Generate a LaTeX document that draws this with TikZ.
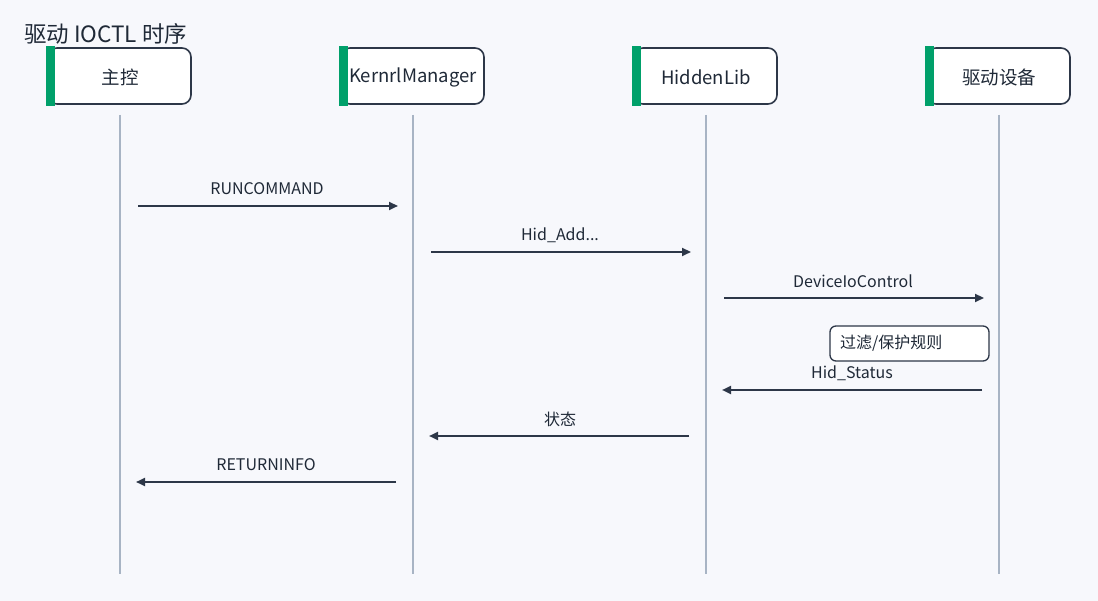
\documentclass[tikz,border=0pt]{standalone}
\usepackage{fontspec}
\setmainfont{Noto Sans CJK SC}
\usetikzlibrary{arrows.meta,calc}
\definecolor{bg}{HTML}{F7F8FC}
\definecolor{ink}{HTML}{1F2937}
\definecolor{edge}{HTML}{2D3748}
\definecolor{life}{HTML}{A8B4C4}
\definecolor{grn}{HTML}{00A06A}
\tikzset{
  actor/.style={draw=edge, line width=1.6pt, fill=white, rounded corners=9pt, minimum width=143pt, minimum height=56pt, inner sep=0pt},
  actortext/.style={text=ink, font=\fontsize{18.5}{20}\selectfont, inner sep=0pt},
  lifeline/.style={draw=life, line width=1.3pt},
  msg/.style={draw=edge, line width=2.2pt, -{Triangle[length=9pt,width=8pt]}},
  lbl/.style={text=ink, font=\fontsize{16}{18}\selectfont, inner sep=0pt},
  notebox/.style={draw=edge, line width=1.3pt, fill=white, rounded corners=6pt, minimum width=159pt, minimum height=35pt, inner sep=0pt},
}
\begin{document}
\begin{tikzpicture}[x=1pt,y=-1pt]
\fill[bg] (0,0) rectangle (1098,601);
\useasboundingbox (0,0) rectangle (1098,601);
\node[anchor=west, text=ink, font=\fontsize{22.5}{24}\selectfont, inner sep=0pt] (title) at (24,34) {驱动 IOCTL 时序};
% lifelines
\foreach \n/\x in {a/120,b/413,c/706,d/999}{
  \coordinate (\n top) at (\x,115);
  \coordinate (\n bot) at (\x,574);
  \draw[lifeline] (\n top) -- (\n bot);
}
% actors
\foreach \n/\x in {A/119.5,B/412.5,C/705.5,D/998.5}{
  \node[actor] (\n) at (\x,76) {};
  \fill[grn] ($(\n.north west)+(-0.8,-0.8)$) rectangle ($(\n.south west)+(7.5,0.8)$);
}
\node[actortext] (At) at (120,77) {主控};
\node[actortext] (Bt) at (413,77) {KernrlManager};
\node[actortext] (Ct) at (706,77) {HiddenLib};
\node[actortext] (Dt) at (999,77) {驱动设备};
% message points
\coordinate (m1s) at (138,206); \coordinate (m1e) at (398,206);
\coordinate (m2s) at (431,252); \coordinate (m2e) at (691,252);
\coordinate (m3s) at (724,298); \coordinate (m3e) at (984,298);
\coordinate (m4s) at (982,390); \coordinate (m4e) at (722,390);
\coordinate (m5s) at (689,436); \coordinate (m5e) at (429,436);
\coordinate (m6s) at (396,482); \coordinate (m6e) at (136,482);
\draw[msg] (m1s) -- (m1e);
\draw[msg] (m2s) -- (m2e);
\draw[msg] (m3s) -- (m3e);
\draw[msg] (m4s) -- (m4e);
\draw[msg] (m5s) -- (m5e);
\draw[msg] (m6s) -- (m6e);
\node[lbl] (l1) at (267,189) {RUNCOMMAND};
\node[lbl] (l2) at (560,235) {Hid\_Add...};
\node[lbl] (l3) at (853,281) {DeviceIoControl};
\node[notebox] (note) at (909.5,343.5) {};
\node[lbl, anchor=west] (notet) at (840,343) {过滤/保护规则};
\node[lbl] (l4) at (852,373) {Hid\_Status};
\node[lbl] (l5) at (560,419) {状态};
\node[lbl] (l6) at (266,465) {RETURNINFO};
\end{tikzpicture}
\end{document}
